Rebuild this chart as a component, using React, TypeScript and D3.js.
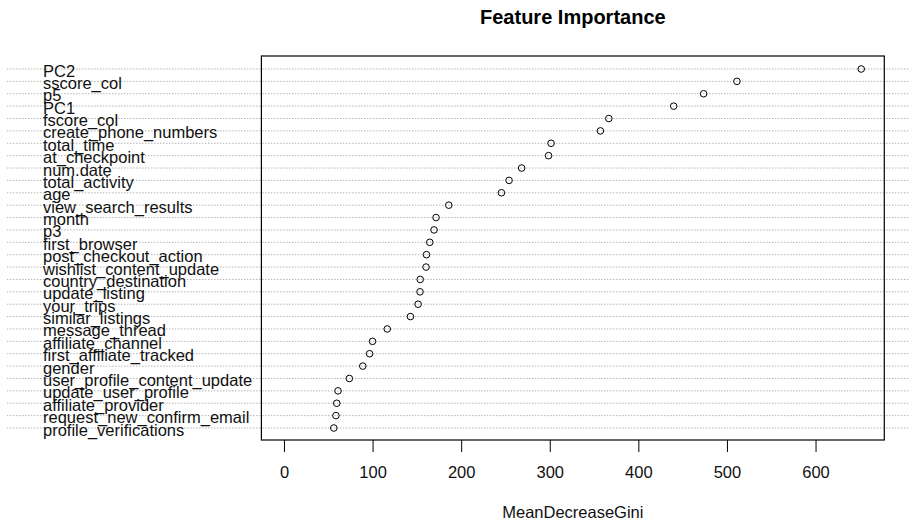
import React from "react";
import * as d3 from "d3";

const features: string[] = [
  "PC2", "sscore_col", "p5", "PC1", "fscore_col", "create_phone_numbers",
  "total_time", "at_checkpoint", "num.date", "total_activity", "age",
  "view_search_results", "month", "p3", "first_browser", "post_checkout_action",
  "wishlist_content_update", "country_destination", "update_listing", "your_trips",
  "similar_listings", "message_thread", "affiliate_channel", "first_affiliate_tracked",
  "gender", "user_profile_content_update", "update_user_profile", "affiliate_provider",
  "request_new_confirm_email", "profile_verifications",
];

const meanDecreaseGini: number[] = [
  651, 510.7, 473.1, 439.3, 366.1, 356.6,
  300.9, 298.1, 267.7, 253.5, 244.9,
  185.5, 171.1, 168.8, 164.0, 160.3,
  159.8, 153.2, 153.0, 150.8,
  142.2, 116.0, 99.4, 96.1,
  88.4, 73.2, 60.4, 59.0,
  58.1, 55.7,
];

const xTicks: number[] = [0, 100, 200, 300, 400, 500, 600];

const title = "Feature Importance";
const xLabel = "MeanDecreaseGini";

export default function App() {
  const W = 910;
  const H = 525;
  const box = { left: 261.4, right: 884.3, top: 56, bottom: 440 };
  const maxV = d3.max(meanDecreaseGini) as number;
  const pad = maxV * 0.04;
  const x = d3.scaleLinear().domain([-pad, maxV + pad]).range([box.left, box.right]);
  const y = d3.scalePoint<string>().domain(features).range([69, 428]);
  const cx = (box.left + box.right) / 2;
  const font = "'Liberation Sans', Arial, sans-serif";

  return (
    <svg
      width={W}
      height={H}
      style={{ position: "absolute", left: 0, top: 0, background: "#fff" }}
      fontFamily={font}
    >
      <rect x={0} y={0} width={W} height={H} fill="#fff" />
      {features.map((f) => (
        <line
          key={"g" + f}
          x1={7}
          x2={W}
          y1={y(f)}
          y2={y(f)}
          stroke="#b4b4b4"
          strokeWidth={1}
          strokeDasharray="1.5 1.5"
        />
      ))}
      {features.map((f) => (
        <text key={"l" + f} x={43} y={(y(f) as number) + 7.5} fontSize={16.5} fill="#111">
          {f}
        </text>
      ))}
      <rect
        x={box.left}
        y={box.top}
        width={box.right - box.left}
        height={box.bottom - box.top}
        fill="none"
        stroke="#000"
        strokeWidth={1.2}
      />
      {features.map((f, i) => (
        <circle
          key={"p" + f}
          cx={x(meanDecreaseGini[i])}
          cy={y(f)}
          r={3.3}
          fill="none"
          stroke="#000"
          strokeWidth={1}
        />
      ))}
      {xTicks.map((t) => (
        <g key={"t" + t}>
          <line x1={x(t)} x2={x(t)} y1={box.bottom} y2={box.bottom + 12} stroke="#000" strokeWidth={1} />
          <text x={x(t)} y={478} fontSize={16.5} textAnchor="middle" fill="#111">
            {t}
          </text>
        </g>
      ))}
      <text x={cx} y={518} fontSize={16.5} textAnchor="middle" fill="#111">
        {xLabel}
      </text>
      <text x={cx} y={24} fontSize={20} fontWeight="bold" textAnchor="middle" fill="#000">
        {title}
      </text>
    </svg>
  );
}
